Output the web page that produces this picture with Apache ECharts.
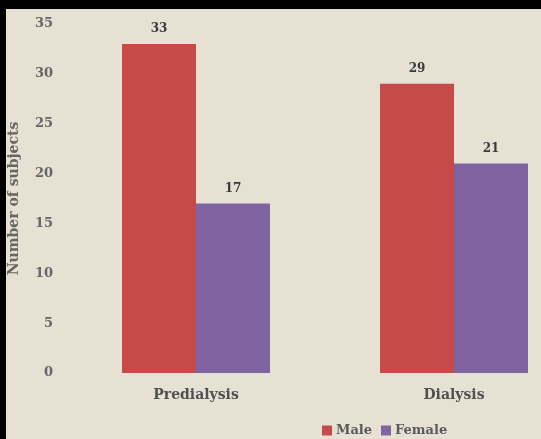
<!DOCTYPE html>
<html><head><meta charset="utf-8">
<script src="https://cdn.jsdelivr.net/npm/echarts@6/dist/echarts.min.js"></script>
<style>
html,body{margin:0;padding:0;background:#e6e1d3;}
#c{position:absolute;left:0;top:0;width:541px;height:439px;}
.b{position:absolute;background:#000;}
</style></head>
<body>
<div id="c"></div>
<div class="b" style="left:0;top:0;width:541px;height:9px;"></div>
<div class="b" style="left:0;top:0;width:6px;height:439px;"></div>
<script>
const categories = ['Predialysis', 'Dialysis'];
const maleValues = [33, 29];
const femaleValues = [17, 21];
const yTicks = [0, 5, 10, 15, 20, 25, 30, 35];

const font = '"DejaVu Serif", "Liberation Serif", serif';
const chart = echarts.init(document.getElementById('c'));
chart.setOption({
  backgroundColor: '#e6e1d3',
  animation: false,
  grid: {left: 67, top: 24, bottom: 66, right: -42, outerBoundsMode: 'none', containLabel: false},
  legend: {
    data: ['Male', 'Female'], left: 317, bottom: -3,
    itemWidth: 10, itemHeight: 10, itemGap: 9, icon: 'rect',
    textStyle: {fontFamily: font, fontWeight: 'bold', fontSize: 13, color: '#5a5a5a', padding: [0, 0, 0, -1]}
  },
  xAxis: {
    type: 'category', data: categories,
    axisLine: {show: false}, axisTick: {show: false},
    axisLabel: {margin: 15, fontFamily: font, fontWeight: 'bold', fontSize: 14, color: '#505050'}
  },
  yAxis: {
    type: 'value', min: yTicks[0], max: yTicks[yTicks.length - 1], interval: 5,
    name: 'Number of subjects', nameLocation: 'middle', nameGap: 46,
    nameTextStyle: {fontFamily: font, fontWeight: 'bold', fontSize: 14, color: '#666'},
    axisLine: {show: false}, axisTick: {show: false}, splitLine: {show: false},
    axisLabel: {margin: 14, fontFamily: font, fontWeight: 'bold', fontSize: 13, color: '#666'}
  },
  series: [
    {name: 'Male', type: 'bar', data: maleValues, barWidth: 74, barGap: '0%',
     itemStyle: {color: '#c54b49'},
     label: {show: true, position: 'top', distance: 9, fontFamily: font, fontWeight: 'bold', fontSize: 12, color: '#3a3a3a'}},
    {name: 'Female', type: 'bar', data: femaleValues, barWidth: 74,
     itemStyle: {color: '#8064a2'},
     label: {show: true, position: 'top', distance: 9, fontFamily: font, fontWeight: 'bold', fontSize: 12, color: '#3a3a3a'}}
  ]
});
</script>
</body></html>
